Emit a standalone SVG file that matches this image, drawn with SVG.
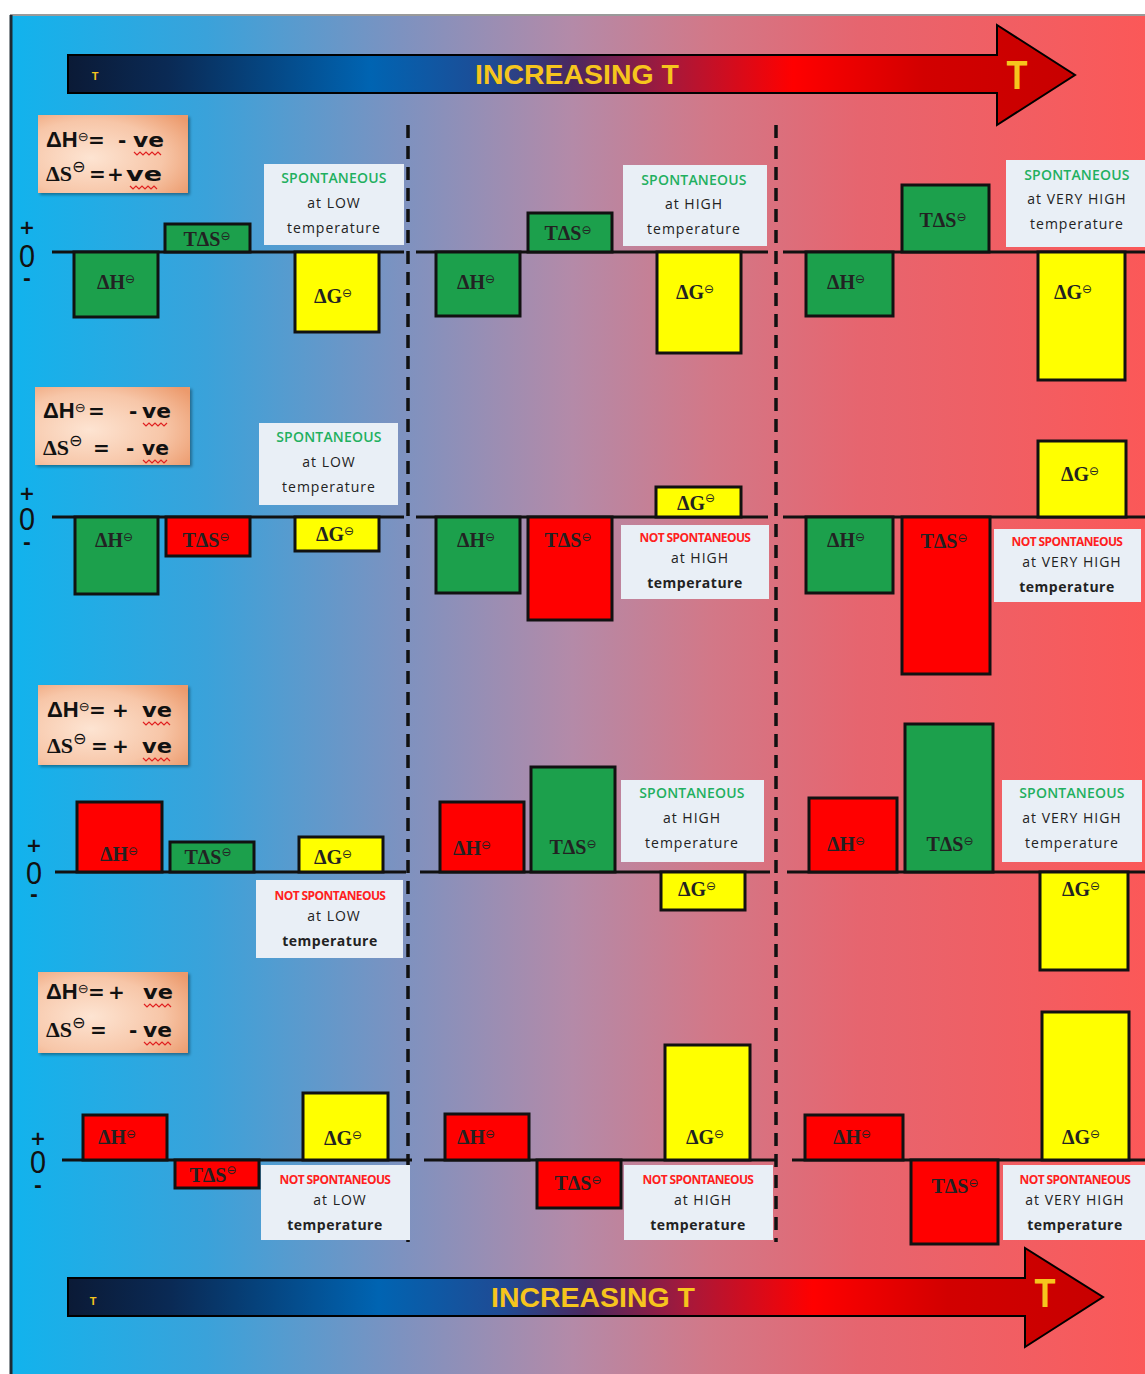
<svg xmlns="http://www.w3.org/2000/svg" width="1145" height="1374" viewBox="0 0 1145 1374">
<defs>
<linearGradient id="bg" x1="0" y1="0" x2="1145" y2="0" gradientUnits="userSpaceOnUse">
<stop offset="0" stop-color="#0fb4ee"/>
<stop offset="0.18" stop-color="#3aa2da"/>
<stop offset="0.35" stop-color="#7d92c0"/>
<stop offset="0.5" stop-color="#b48aa8"/>
<stop offset="0.62" stop-color="#d27888"/>
<stop offset="0.75" stop-color="#e6656f"/>
<stop offset="1" stop-color="#fb5858"/>
</linearGradient>
<linearGradient id="arr" x1="0" y1="0" x2="1" y2="0">
<stop offset="0" stop-color="#0b1a36"/>
<stop offset="0.1" stop-color="#0a2a55"/>
<stop offset="0.3" stop-color="#0064b2"/>
<stop offset="0.42" stop-color="#1f4b94"/>
<stop offset="0.5" stop-color="#4a2860"/>
<stop offset="0.6" stop-color="#a8183a"/>
<stop offset="0.72" stop-color="#ff0000"/>
<stop offset="0.85" stop-color="#d20000"/>
<stop offset="1" stop-color="#c80000"/>
</linearGradient>
<radialGradient id="peach" cx="0.35" cy="0.55" r="0.8">
<stop offset="0" stop-color="#fde4d2"/>
<stop offset="0.6" stop-color="#f7c6a8"/>
<stop offset="1" stop-color="#ec9a6c"/>
</radialGradient>
<filter id="sh" x="-10%" y="-10%" width="125%" height="125%">
<feDropShadow dx="2" dy="2" stdDeviation="1.5" flood-color="#000" flood-opacity="0.35"/>
</filter>
</defs>
<style>
.bar{stroke:#111;stroke-width:3}
.g{fill:#1ca04c}.r{fill:#ff0000}.y{fill:#ffff00}
.axis{stroke:#111;stroke-width:3}
.dash{stroke:#111;stroke-width:3.5;stroke-dasharray:13 8;fill:none}
.bl{font-family:"Liberation Serif",serif;font-weight:bold;font-size:20px;fill:#222;text-anchor:middle}
.sup{font-family:"DejaVu Sans",sans-serif;font-weight:normal;font-size:12px}
.lbox{fill:#e9eff6}
.sp{font-family:"Open Sans","DejaVu Sans",sans-serif;font-size:14px;font-weight:600;fill:#1fb060;text-anchor:middle;letter-spacing:0.2px}
.nsp{font-family:"Open Sans","DejaVu Sans",sans-serif;font-size:12px;font-weight:bold;fill:#ff2020;text-anchor:middle;letter-spacing:-0.6px}
.lt{font-family:"Open Sans","DejaVu Sans",sans-serif;font-size:14px;fill:#222;text-anchor:middle;letter-spacing:1px}
.ltb{font-family:"Open Sans","DejaVu Sans",sans-serif;font-size:14px;font-weight:bold;fill:#222;text-anchor:middle;letter-spacing:0.5px}
.cbox{fill:url(#peach);filter:url(#sh)}
.cond{font-family:"DejaVu Sans",sans-serif;font-weight:bold;font-size:20px;fill:#111}
.dh{font-family:"Liberation Sans",sans-serif;font-size:22px}
.ser{font-family:"Liberation Serif",serif;font-size:22px}
.csup{font-family:"DejaVu Sans",sans-serif;font-size:13px;font-weight:normal}
.csup2{font-family:"DejaVu Sans",sans-serif;font-size:16px;font-weight:normal}
.sq{fill:none;stroke:#e02020;stroke-width:1.2}
.pm{font-family:"DejaVu Sans",sans-serif;font-weight:bold;fill:#111;text-anchor:middle}
.zero{font-family:"Liberation Sans",sans-serif;font-weight:normal}
.ar{fill:url(#arr);stroke:#000;stroke-width:2}
.at{font-family:"Liberation Sans Narrow","Liberation Sans",sans-serif;font-weight:bold;fill:#f6c51d;text-anchor:middle}
</style>

<rect x="0" y="0" width="1145" height="1374" fill="#ffffff"/>
<rect x="10" y="15" width="1135" height="1359" fill="url(#bg)"/>
<line x1="10" y1="15" x2="1145" y2="15" stroke="#9a9a9a" stroke-width="2"/>
<line x1="11" y1="15" x2="11" y2="1374" stroke="#1d2a33" stroke-width="3"/>

<g id="arrow-top">
<path class="ar" d="M68,55 H997 V25 L1075,75 L997,125 V93 H68 Z"/>
<text class="at" x="95" y="80" font-size="11">T</text>
<text class="at" x="577" y="84" font-size="27" textLength="204" lengthAdjust="spacingAndGlyphs">INCREASING T</text>
<text class="at" x="1017" y="89" font-size="40" textLength="21" lengthAdjust="spacingAndGlyphs">T</text>
</g>
<g id="arrow-bottom">
<path class="ar" d="M68,1278 H1025 V1248 L1103,1297 L1025,1347 V1316 H68 Z"/>
<text class="at" x="93" y="1305" font-size="11">T</text>
<text class="at" x="593" y="1307" font-size="27" textLength="204" lengthAdjust="spacingAndGlyphs">INCREASING T</text>
<text class="at" x="1045" y="1307" font-size="40" textLength="21" lengthAdjust="spacingAndGlyphs">T</text>
</g>

<g id="connectors">
<line class="dash" x1="408" y1="125" x2="408" y2="1242"/>
<line class="dash" x1="776" y1="125" x2="776" y2="1242"/>
<line class="axis" x1="52" y1="252" x2="404" y2="252"/>
<line class="axis" x1="416" y1="252" x2="768" y2="252"/>
<line class="axis" x1="783" y1="252" x2="1145" y2="252"/>
<line class="axis" x1="52" y1="517" x2="404" y2="517"/>
<line class="axis" x1="416" y1="517" x2="768" y2="517"/>
<line class="axis" x1="783" y1="517" x2="1145" y2="517"/>
<line class="axis" x1="55" y1="872" x2="406" y2="872"/>
<line class="axis" x1="420" y1="872" x2="770" y2="872"/>
<line class="axis" x1="787" y1="872" x2="1145" y2="872"/>
<line class="axis" x1="62" y1="1160" x2="412" y2="1160"/>
<line class="axis" x1="424" y1="1160" x2="775" y2="1160"/>
<line class="axis" x1="792" y1="1160" x2="1145" y2="1160"/>
</g>

<g id="axis-signs">
<text class="pm" font-size="19"><tspan x="27" y="234">+</tspan><tspan class="zero" x="27" y="267" font-size="32" textLength="16" lengthAdjust="spacingAndGlyphs">0</tspan><tspan x="27" y="285">-</tspan></text>
<text class="pm" font-size="19"><tspan x="27" y="500">+</tspan><tspan class="zero" x="27" y="530" font-size="32" textLength="16" lengthAdjust="spacingAndGlyphs">0</tspan><tspan x="27" y="549">-</tspan></text>
<text class="pm" font-size="19"><tspan x="34" y="852">+</tspan><tspan class="zero" x="34" y="884" font-size="32" textLength="16" lengthAdjust="spacingAndGlyphs">0</tspan><tspan x="34" y="901">-</tspan></text>
<text class="pm" font-size="19"><tspan x="38" y="1145">+</tspan><tspan class="zero" x="38" y="1173" font-size="32" textLength="16" lengthAdjust="spacingAndGlyphs">0</tspan><tspan x="38" y="1192">-</tspan></text>
</g>

<!-- Row 1 -->
<g id="cond1">
<rect class="cbox" x="38" y="115" width="150" height="78"/>
<text class="cond" y="147"><tspan class="dh" x="46">ΔH</tspan><tspan class="csup" dy="-6">⊖</tspan><tspan x="88" dy="6">=</tspan><tspan x="118">-</tspan><tspan x="133" textLength="31" lengthAdjust="spacingAndGlyphs">ve</tspan></text>
<text class="cond" y="181"><tspan x="46" class="ser">ΔS</tspan><tspan class="csup2" dy="-9">⊖</tspan><tspan x="89" dy="9">=</tspan><tspan x="107">+</tspan><tspan x="126" textLength="36" lengthAdjust="spacingAndGlyphs">ve</tspan></text>
<path class="sq" d="M134,152 l3,3 l3,-3 l3,3 l3,-3 l3,3 l3,-3 l3,3 l3,-3 l3,3"/>
<path class="sq" d="M130,186 l3,3 l3,-3 l3,3 l3,-3 l3,3 l3,-3 l3,3 l3,-3 l3,3"/>
</g>
<g id="r1c1">
<rect class="bar g" x="74" y="252" width="84" height="65"/><text class="bl" x="116" y="289">ΔH<tspan class="sup" dy="-6">⊖</tspan></text>
<rect class="bar g" x="165" y="224" width="85" height="28"/><text class="bl" x="207" y="246">TΔS<tspan class="sup" dy="-6">⊖</tspan></text>
<rect class="bar y" x="295" y="252" width="84" height="80"/><text class="bl" x="333" y="303">ΔG<tspan class="sup" dy="-6">⊖</tspan></text>
<rect class="lbox" x="264" y="164" width="140" height="81"/>
<text class="sp" x="334" y="183">SPONTANEOUS</text><text class="lt" x="334" y="208">at LOW</text><text class="lt" x="334" y="233">temperature</text>
</g>
<g id="r1c2">
<rect class="bar g" x="436" y="252" width="84" height="64"/><text class="bl" x="476" y="289">ΔH<tspan class="sup" dy="-6">⊖</tspan></text>
<rect class="bar g" x="528" y="213" width="84" height="39"/><text class="bl" x="568" y="240">TΔS<tspan class="sup" dy="-6">⊖</tspan></text>
<rect class="bar y" x="657" y="252" width="84" height="101"/><text class="bl" x="695" y="299">ΔG<tspan class="sup" dy="-6">⊖</tspan></text>
<rect class="lbox" x="623" y="165" width="144" height="81"/>
<text class="sp" x="694" y="185">SPONTANEOUS</text><text class="lt" x="694" y="209">at HIGH</text><text class="lt" x="694" y="234">temperature</text>
</g>
<g id="r1c3">
<rect class="bar g" x="806" y="252" width="87" height="64"/><text class="bl" x="846" y="289">ΔH<tspan class="sup" dy="-6">⊖</tspan></text>
<rect class="bar g" x="902" y="185" width="87" height="67"/><text class="bl" x="943" y="227">TΔS<tspan class="sup" dy="-6">⊖</tspan></text>
<rect class="bar y" x="1038" y="252" width="87" height="128"/><text class="bl" x="1073" y="299">ΔG<tspan class="sup" dy="-6">⊖</tspan></text>
<rect class="lbox" x="1006" y="160" width="139" height="87"/>
<text class="sp" x="1077" y="180">SPONTANEOUS</text><text class="lt" x="1077" y="204">at VERY HIGH</text><text class="lt" x="1077" y="229">temperature</text>
</g>

<!-- Row 2 -->
<g id="cond2">
<rect class="cbox" x="35" y="387" width="155" height="78"/>
<text class="cond" y="418"><tspan class="dh" x="43">ΔH</tspan><tspan class="csup" dy="-6">⊖</tspan><tspan x="88" dy="6">=</tspan><tspan x="129">-</tspan><tspan x="142" textLength="29" lengthAdjust="spacingAndGlyphs">ve</tspan></text>
<text class="cond" y="455"><tspan x="43" class="ser">ΔS</tspan><tspan class="csup2" dy="-9">⊖</tspan><tspan x="93" dy="9">=</tspan><tspan x="126">-</tspan><tspan x="142" textLength="27" lengthAdjust="spacingAndGlyphs">ve</tspan></text>
<path class="sq" d="M143,423 l3,3 l3,-3 l3,3 l3,-3 l3,3 l3,-3 l3,3 l3,-3"/>
<path class="sq" d="M143,460 l3,3 l3,-3 l3,3 l3,-3 l3,3 l3,-3 l3,3 l3,-3"/>
</g>
<g id="r2c1">
<rect class="bar g" x="75" y="517" width="83" height="77"/><text class="bl" x="114" y="547">ΔH<tspan class="sup" dy="-6">⊖</tspan></text>
<rect class="bar r" x="166" y="517" width="84" height="39"/><text class="bl" x="206" y="547">TΔS<tspan class="sup" dy="-6">⊖</tspan></text>
<rect class="bar y" x="295" y="517" width="84" height="34"/><text class="bl" x="335" y="541">ΔG<tspan class="sup" dy="-6">⊖</tspan></text>
<rect class="lbox" x="259" y="423" width="139" height="82"/>
<text class="sp" x="329" y="442">SPONTANEOUS</text><text class="lt" x="329" y="467">at LOW</text><text class="lt" x="329" y="492">temperature</text>
</g>
<g id="r2c2">
<rect class="bar g" x="436" y="517" width="84" height="76"/><text class="bl" x="476" y="547">ΔH<tspan class="sup" dy="-6">⊖</tspan></text>
<rect class="bar r" x="528" y="517" width="84" height="103"/><text class="bl" x="568" y="547">TΔS<tspan class="sup" dy="-6">⊖</tspan></text>
<rect class="bar y" x="656" y="487" width="85" height="30"/><text class="bl" x="696" y="510">ΔG<tspan class="sup" dy="-8">⊖</tspan></text>
<rect class="lbox" x="621" y="525" width="148" height="74"/>
<text class="nsp" x="695" y="542">NOT SPONTANEOUS</text><text class="lt" x="700" y="563">at HIGH</text><text class="ltb" x="695" y="588">temperature</text>
</g>
<g id="r2c3">
<rect class="bar g" x="806" y="517" width="87" height="76"/><text class="bl" x="846" y="547">ΔH<tspan class="sup" dy="-6">⊖</tspan></text>
<rect class="bar r" x="902" y="517" width="88" height="157"/><text class="bl" x="944" y="548">TΔS<tspan class="sup" dy="-6">⊖</tspan></text>
<rect class="bar y" x="1038" y="441" width="88" height="76"/><text class="bl" x="1080" y="481">ΔG<tspan class="sup" dy="-6">⊖</tspan></text>
<rect class="lbox" x="994" y="529" width="147" height="73"/>
<text class="nsp" x="1067" y="546">NOT SPONTANEOUS</text><text class="lt" x="1072" y="567">at  VERY HIGH</text><text class="ltb" x="1067" y="592">temperature</text>
</g>

<!-- Row 3 -->
<g id="cond3">
<rect class="cbox" x="38" y="685" width="150" height="80"/>
<text class="cond" y="717"><tspan class="dh" x="47">ΔH</tspan><tspan class="csup" dy="-6">⊖</tspan><tspan x="89" dy="6">=</tspan><tspan x="112">+</tspan><tspan x="142" textLength="30" lengthAdjust="spacingAndGlyphs">ve</tspan></text>
<text class="cond" y="753"><tspan x="47" class="ser">ΔS</tspan><tspan class="csup2" dy="-9">⊖</tspan><tspan x="91" dy="9">=</tspan><tspan x="112">+</tspan><tspan x="142" textLength="30" lengthAdjust="spacingAndGlyphs">ve</tspan></text>
<path class="sq" d="M143,722 l3,3 l3,-3 l3,3 l3,-3 l3,3 l3,-3 l3,3 l3,-3 l3,3"/>
<path class="sq" d="M143,758 l3,3 l3,-3 l3,3 l3,-3 l3,3 l3,-3 l3,3 l3,-3 l3,3"/>
</g>
<g id="r3c1">
<rect class="bar r" x="77" y="802" width="85" height="70"/><text class="bl" x="119" y="861">ΔH<tspan class="sup" dy="-6">⊖</tspan></text>
<rect class="bar g" x="170" y="842" width="84" height="30"/><text class="bl" x="208" y="864">TΔS<tspan class="sup" dy="-8">⊖</tspan></text>
<rect class="bar y" x="299" y="837" width="84" height="35"/><text class="bl" x="333" y="864">ΔG<tspan class="sup" dy="-6">⊖</tspan></text>
<rect class="lbox" x="256" y="880" width="147" height="78"/>
<text class="nsp" x="330" y="900">NOT SPONTANEOUS</text><text class="lt" x="334" y="921">at  LOW</text><text class="ltb" x="330" y="946">temperature</text>
</g>
<g id="r3c2">
<rect class="bar r" x="440" y="802" width="84" height="70"/><text class="bl" x="472" y="855">ΔH<tspan class="sup" dy="-6">⊖</tspan></text>
<rect class="bar g" x="531" y="767" width="84" height="105"/><text class="bl" x="573" y="854">TΔS<tspan class="sup" dy="-6">⊖</tspan></text>
<rect class="bar y" x="661" y="872" width="84" height="38"/><text class="bl" x="697" y="896">ΔG<tspan class="sup" dy="-6">⊖</tspan></text>
<rect class="lbox" x="621" y="780" width="143" height="82"/>
<text class="sp" x="692" y="798">SPONTANEOUS</text><text class="lt" x="692" y="823">at HIGH</text><text class="lt" x="692" y="848">temperature</text>
</g>
<g id="r3c3">
<rect class="bar r" x="809" y="798" width="88" height="74"/><text class="bl" x="846" y="851">ΔH<tspan class="sup" dy="-6">⊖</tspan></text>
<rect class="bar g" x="905" y="724" width="88" height="148"/><text class="bl" x="950" y="851">TΔS<tspan class="sup" dy="-6">⊖</tspan></text>
<rect class="bar y" x="1040" y="872" width="88" height="98"/><text class="bl" x="1081" y="896">ΔG<tspan class="sup" dy="-6">⊖</tspan></text>
<rect class="lbox" x="1002" y="780" width="140" height="82"/>
<text class="sp" x="1072" y="798">SPONTANEOUS</text><text class="lt" x="1072" y="823">at  VERY HIGH</text><text class="lt" x="1072" y="848">temperature</text>
</g>

<!-- Row 4 -->
<g id="cond4">
<rect class="cbox" x="38" y="972" width="150" height="81"/>
<text class="cond" y="999"><tspan class="dh" x="46">ΔH</tspan><tspan class="csup" dy="-6">⊖</tspan><tspan x="88" dy="6">=</tspan><tspan x="108">+</tspan><tspan x="143" textLength="30" lengthAdjust="spacingAndGlyphs">ve</tspan></text>
<text class="cond" y="1037"><tspan x="46" class="ser">ΔS</tspan><tspan class="csup2" dy="-9">⊖</tspan><tspan x="90" dy="9">=</tspan><tspan x="129">-</tspan><tspan x="143" textLength="29" lengthAdjust="spacingAndGlyphs">ve</tspan></text>
<path class="sq" d="M144,1004 l3,3 l3,-3 l3,3 l3,-3 l3,3 l3,-3 l3,3 l3,-3 l3,3"/>
<path class="sq" d="M144,1042 l3,3 l3,-3 l3,3 l3,-3 l3,3 l3,-3 l3,3 l3,-3 l3,3"/>
</g>
<g id="r4c1">
<rect class="bar r" x="83" y="1115" width="84" height="45"/><text class="bl" x="117" y="1144">ΔH<tspan class="sup" dy="-6">⊖</tspan></text>
<rect class="bar r" x="175" y="1160" width="84" height="28"/><text class="bl" x="213" y="1182">TΔS<tspan class="sup" dy="-8">⊖</tspan></text>
<rect class="bar y" x="303" y="1093" width="85" height="67"/><text class="bl" x="343" y="1145">ΔG<tspan class="sup" dy="-6">⊖</tspan></text>
<rect class="lbox" x="261" y="1165" width="149" height="75"/>
<text class="nsp" x="335" y="1184">NOT SPONTANEOUS</text><text class="lt" x="340" y="1205">at  LOW</text><text class="ltb" x="335" y="1230">temperature</text>
</g>
<g id="r4c2">
<rect class="bar r" x="445" y="1114" width="84" height="46"/><text class="bl" x="476" y="1144">ΔH<tspan class="sup" dy="-6">⊖</tspan></text>
<rect class="bar r" x="537" y="1160" width="84" height="48"/><text class="bl" x="578" y="1190">TΔS<tspan class="sup" dy="-6">⊖</tspan></text>
<rect class="bar y" x="665" y="1045" width="85" height="115"/><text class="bl" x="705" y="1144">ΔG<tspan class="sup" dy="-6">⊖</tspan></text>
<rect class="lbox" x="624" y="1165" width="149" height="75"/>
<text class="nsp" x="698" y="1184">NOT SPONTANEOUS</text><text class="lt" x="703" y="1205">at HIGH</text><text class="ltb" x="698" y="1230">temperature</text>
</g>
<g id="r4c3">
<rect class="bar r" x="805" y="1115" width="98" height="45"/><text class="bl" x="852" y="1144">ΔH<tspan class="sup" dy="-6">⊖</tspan></text>
<rect class="bar r" x="911" y="1160" width="87" height="84"/><text class="bl" x="955" y="1193">TΔS<tspan class="sup" dy="-6">⊖</tspan></text>
<rect class="bar y" x="1042" y="1012" width="87" height="148"/><text class="bl" x="1081" y="1144">ΔG<tspan class="sup" dy="-6">⊖</tspan></text>
<rect class="lbox" x="1003" y="1165" width="142" height="75"/>
<text class="nsp" x="1075" y="1184">NOT SPONTANEOUS</text><text class="lt" x="1075" y="1205">at  VERY HIGH</text><text class="ltb" x="1075" y="1230">temperature</text>
</g>
</svg>
